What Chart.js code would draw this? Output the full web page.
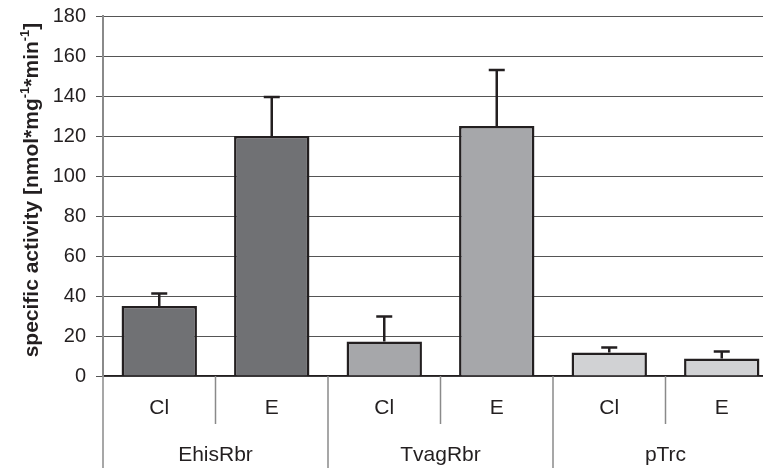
<html><head><meta charset="utf-8">
<script src="https://cdn.jsdelivr.net/npm/chart.js@4"></script>
<style>
 body { margin:0; overflow:hidden; background:#fff; }
 #wrap { position:relative; width:778px; height:474px; margin-top:-6px; }
</style>
</head>
<body>
<div id="wrap"><canvas id="myChart"></canvas></div>
<script>
var groups = ['EhisRbr', 'TvagRbr', 'pTrc'];
var subLabels = ['Cl', 'E', 'Cl', 'E', 'Cl', 'E'];
var values = [35, 120, 17.3, 125, 11.8, 8.7];
var errors = [6.3, 19.5, 12.4, 28, 2.5, 3.5];
var barColors = ['#707174', '#707174', '#a6a7aa', '#a6a7aa', '#d1d2d4', '#d1d2d4'];
var yTicks = [0, 20, 40, 60, 80, 100, 120, 140, 160, 180];

var FONT = '"Liberation Sans", Arial, sans-serif';

// error bars (upper only)
var errorBars = {
  id: 'errorBars',
  afterDatasetsDraw: function(chart) {
    var ctx = chart.ctx, y = chart.scales.y;
    var meta = chart.getDatasetMeta(0);
    ctx.save();
    ctx.strokeStyle = '#231f20';
    ctx.lineWidth = 2.5;
    meta.data.forEach(function(bar, i) {
      var top = y.getPixelForValue(values[i] + errors[i]);
      ctx.beginPath();
      ctx.moveTo(bar.x, bar.y);
      ctx.lineTo(bar.x, top);
      ctx.moveTo(bar.x - 8, top);
      ctx.lineTo(bar.x + 8, top);
      ctx.stroke();
    });
    ctx.restore();
  }
};

// two level category axis + y title
var axisBelow = {
  id: 'axisBelow',
  afterDraw: function(chart) {
    var ctx = chart.ctx, x = chart.scales.x, area = chart.chartArea;
    var step = x.getPixelForValue(1) - x.getPixelForValue(0);
    var base = area.bottom;
    ctx.save();
    ctx.strokeStyle = '#8a8a8a';
    ctx.lineWidth = 1.5;
    ctx.fillStyle = '#231f20';
    ctx.textAlign = 'center';
    ctx.textBaseline = 'middle';
    ctx.font = '21px ' + FONT;
    subLabels.forEach(function(l, i) {
      var c = x.getPixelForValue(i);
      var left = c - step / 2;
      ctx.beginPath();
      ctx.moveTo(left, base);
      ctx.lineTo(left, i % 2 === 0 ? chart.height : base + 48);
      ctx.stroke();
      ctx.fillText(l, c, base + 32);
    });
    groups.forEach(function(g, j) {
      var c = (x.getPixelForValue(j * 2) + x.getPixelForValue(j * 2 + 1)) / 2;
      ctx.fillText(g, c, base + 79);
    });
    // y title with superscripts
    ctx.translate(38, (area.top + area.bottom) / 2 - 6);
    ctx.rotate(-Math.PI / 2);
    ctx.textBaseline = 'alphabetic';
    var parts = [['specific activity [nmol*mg', 0], ['-1', 1], ['*min', 0], ['-1', 1], [']', 0]];
    var big = 'bold 21px ' + FONT, small = 'bold 13px ' + FONT;
    var total = 0;
    parts.forEach(function(p) { ctx.font = p[1] ? small : big; total += ctx.measureText(p[0]).width; });
    var px = -total / 2;
    ctx.textAlign = 'left';
    parts.forEach(function(p) {
      ctx.font = p[1] ? small : big;
      ctx.fillText(p[0], px, p[1] ? -9 : 0);
      px += ctx.measureText(p[0]).width;
    });
    ctx.restore();
  }
};

new Chart(document.getElementById('myChart'), {
  type: 'bar',
  data: {
    labels: subLabels,
    datasets: [{
      data: values,
      backgroundColor: barColors,
      borderColor: '#231f20',
      borderWidth: 2.5,
      borderSkipped: 'bottom',
      categoryPercentage: 1,
      barPercentage: 0.67
    }]
  },
  options: {
    responsive: true,
    maintainAspectRatio: false,
    animation: false,
    layout: { padding: { top: 0, bottom: 84, left: 0, right: 0 } },
    plugins: { legend: { display: false }, tooltip: { enabled: false } },
    scales: {
      x: {
        ticks: { display: false },
        grid: { display: false },
        border: { display: true, color: '#231f20', width: 1.5 }
      },
      y: {
        min: 0, max: 180,
        afterBuildTicks: function(s) { s.ticks = yTicks.map(function(v) { return { value: v }; }); },
        afterFit: function(s) { s.width = 103; },
        ticks: { color: '#231f20', font: { family: FONT, size: 20 }, padding: 10 },
        grid: { color: '#555', lineWidth: 1, tickLength: 7, tickColor: '#555' },
        border: { display: true, color: '#8a8a8a', width: 2 }
      }
    }
  },
  plugins: [errorBars, axisBelow]
});
</script>
</body></html>
